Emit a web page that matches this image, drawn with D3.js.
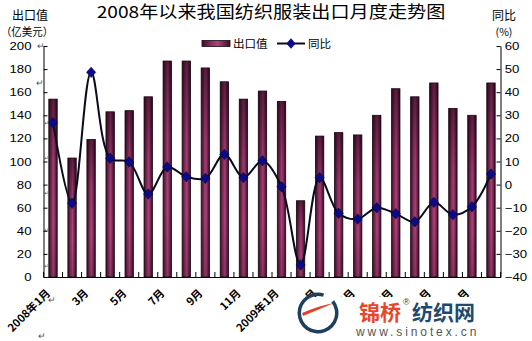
<!DOCTYPE html>
<html>
<head>
<meta charset="utf-8">
<script src="https://cdn.jsdelivr.net/npm/d3@7/dist/d3.min.js"></script>
<style>
  html, body { margin: 0; padding: 0; background: #fff; }
  svg { display: block; }
  text { font-family: "Liberation Sans", Arial, sans-serif; fill: #000; }
  .cjk { font-family: "Noto Sans CJK SC", "Noto Sans", sans-serif; }
</style>
</head>
<body>
<svg id="chart" width="532" height="341"></svg>
<script>
// Monthly textile & apparel exports, Jan 2008 – Dec 2009
const months = [
  "2008-01","2008-02","2008-03","2008-04","2008-05","2008-06",
  "2008-07","2008-08","2008-09","2008-10","2008-11","2008-12",
  "2009-01","2009-02","2009-03","2009-04","2009-05","2009-06",
  "2009-07","2009-08","2009-09","2009-10","2009-11","2009-12"
];
// export value, 100 million USD
const exportValue = [154, 103, 119, 143, 144, 156, 187, 187, 181, 169, 154, 161,
                     152, 66, 122, 125, 123, 140, 163, 156, 168, 146, 140, 168];
// year-on-year change, %
const yoy = [26.8, -8.1, 48.6, 11.4, 9.8, -4.1, 7.6, 3.4, 2.7, 13.1, 3.0, 10.3,
             -0.9, -34.8, 3.0, -12.4, -14.9, -10.0, -12.6, -16.1, -7.7, -13.0, -9.6, 4.6];
// x-axis labels, every second month
const monthLabels = {
  "2008-01": "2008年1月", "2008-03": "3月", "2008-05": "5月", "2008-07": "7月",
  "2008-09": "9月", "2008-11": "11月", "2009-01": "2009年1月", "2009-03": "3月",
  "2009-05": "5月", "2009-07": "7月", "2009-09": "9月", "2009-11": "11月"
};
const leftTicks = d3.range(0, 201, 20);
const rightTicks = d3.range(-40, 61, 10);

const svg = d3.select("#chart");
const plot = { left: 43.5, right: 500.5, top: 46, bottom: 277 };

const x = d3.scaleBand().domain(months)
  .range([plot.left, plot.right]).paddingInner(0.56).paddingOuter(0.28);
const yL = d3.scaleLinear().domain([0, 200]).range([plot.bottom, plot.top]);
const yR = d3.scaleLinear().domain([-40, 60]).range([plot.bottom, plot.top]);

// horizontally stretched text helper
function label(parent, px, py, str, o = {}) {
  return parent.append("text")
    .attr("class", o.cls || null)
    .attr("transform", `translate(${px},${py}) scale(${o.sx || 1},1)`)
    .attr("text-anchor", o.anchor || "start")
    .style("font-size", (o.size || 12) + "px")
    .style("font-weight", o.weight || "normal")
    .style("fill", o.fill || "#000")
    .style("letter-spacing", o.ls || null)
    .text(str);
}

// gradients for the bars
const defs = svg.append("defs");
const gh = defs.append("linearGradient").attr("id", "barH")
  .attr("x1", 0).attr("x2", 1).attr("y1", 0).attr("y2", 0);
[[0, "#3a0f26"], [0.3, "#842c5a"], [0.55, "#ae447e"], [0.8, "#72244c"], [1, "#330c21"]]
  .forEach(([o, c]) => gh.append("stop").attr("offset", o).attr("stop-color", c));
const gv = defs.append("linearGradient").attr("id", "barV")
  .attr("x1", 0).attr("x2", 0).attr("y1", 0).attr("y2", 1);
[[0, "#1a0010", 0.55], [0.35, "#1a0010", 0.12], [0.7, "#1a0010", 0], [1, "#1a0010", 0.2]]
  .forEach(([o, c, a]) => gv.append("stop").attr("offset", o).attr("stop-color", c).attr("stop-opacity", a));

// bars
const bars = svg.append("g");
bars.selectAll("rect.b").data(months).join("rect").attr("class", "b")
  .attr("x", d => x(d)).attr("width", x.bandwidth())
  .attr("y", (d, i) => yL(exportValue[i]))
  .attr("height", (d, i) => yL(0) - yL(exportValue[i]))
  .attr("fill", "url(#barH)");
bars.selectAll("rect.s").data(months).join("rect").attr("class", "s")
  .attr("x", d => x(d)).attr("width", x.bandwidth())
  .attr("y", (d, i) => yL(exportValue[i]))
  .attr("height", (d, i) => yL(0) - yL(exportValue[i]))
  .attr("fill", "url(#barV)").attr("stroke", "#1a0a12").attr("stroke-width", 0.8);

// axes
const axL = svg.append("g").attr("transform", `translate(${plot.left},0)`)
  .call(d3.axisLeft(yL).tickValues(leftTicks).tickSizeInner(-4).tickSizeOuter(0).tickPadding(10));
const axR = svg.append("g").attr("transform", `translate(${plot.right},0)`)
  .call(d3.axisRight(yR).tickValues(rightTicks).tickSizeInner(-4).tickSizeOuter(0).tickPadding(3.5));
const axB = svg.append("g").attr("transform", `translate(0,${plot.bottom})`)
  .call(d3.axisBottom(x).tickValues([]).tickSizeOuter(0));
// band boundary ticks pointing into the plot
axB.selectAll("line.bt").data(d3.range(months.length + 1)).join("line").attr("class", "bt")
  .attr("x1", i => plot.left + i * x.step()).attr("x2", i => plot.left + i * x.step())
  .attr("y1", 0).attr("y2", -5).attr("stroke", "#000");
[axL, axR, axB].forEach(a => {
  a.selectAll("path.domain").attr("stroke", "#000");
  a.selectAll("line").attr("stroke", "#000");
  a.selectAll("text").style("font-size", "11px").style("font-family", "'Liberation Sans', Arial, sans-serif")
    .attr("transform", "scale(1.2,1)");
});

// year-on-year line
const line = d3.line()
  .x((d, i) => x(months[i]) + x.bandwidth() / 2)
  .y(d => yR(d))
  .curve(d3.curveCatmullRom.alpha(0.5));
svg.append("path").datum(yoy).attr("d", line)
  .attr("fill", "none").attr("stroke", "#0b0b1e").attr("stroke-width", 2);
const diamond = "M0,-5.2L4.6,0L0,5.2L-4.6,0Z";
svg.append("g").selectAll("path").data(yoy).join("path")
  .attr("transform", (d, i) => `translate(${x(months[i]) + x.bandwidth() / 2},${yR(d)})`)
  .attr("d", diamond).attr("fill", "#0a0a8a").attr("stroke", "#06064a").attr("stroke-width", 0.6);

// x-axis labels, rotated
const xl = svg.append("g");
months.forEach(m => {
  if (!monthLabels[m]) return;
  const cx = x(m) + x.bandwidth() / 2 - 2;
  xl.append("text").attr("class", "cjk")
    .attr("transform", `translate(${cx},${plot.bottom + 17}) rotate(-45)`)
    .attr("text-anchor", "end")
    .style("font-size", "11px").style("font-weight", "bold")
    .text(monthLabels[m]);
});

// title
label(svg, 271, 18, "2008年以来我国纺织服装出口月度走势图", { cls: "cjk", size: 16.5, sx: 1.16, anchor: "middle" });

// axis titles
label(svg, 30, 20, "出口值", { cls: "cjk", size: 12, anchor: "middle" });
label(svg, 27, 36, "（亿美元）", { cls: "cjk", size: 11, sx: 0.95, anchor: "middle" });
label(svg, 504, 20, "同比", { cls: "cjk", size: 12, anchor: "middle" });
label(svg, 504, 36, "(%)", { cls: "cjk", size: 10.5, anchor: "middle" });

// legend
const lg = svg.append("g");
lg.append("rect").attr("x", 202).attr("y", 40.5).attr("width", 28).attr("height", 6)
  .attr("fill", "url(#barH)").attr("stroke", "#1a0a12").attr("stroke-width", 0.8);
label(lg, 233, 48, "出口值", { cls: "cjk", size: 11, sx: 1.05 });
lg.append("line").attr("x1", 277).attr("x2", 305).attr("y1", 43.5).attr("y2", 43.5)
  .attr("stroke", "#0b0b1e").attr("stroke-width", 2);
lg.append("path").attr("transform", "translate(291,43.5)").attr("d", diamond).attr("fill", "#0a0a8a");
label(lg, 308, 48, "同比", { cls: "cjk", size: 11, sx: 1.05 });

// stray paragraph marks
const marks = [[37, 49, 9], [36, 86, 9], [44, 125, 6], [44, 160, 6], [44, 195, 6], [44, 232, 6], [44, 268, 6], [48, 303, 9], [38, 339, 9]];
marks.forEach(([mx, my, s]) => label(svg, mx, my, "↵", { size: s, fill: "#555" }));

// site watermark
const wm = svg.append("g");
wm.append("rect").attr("x", 287).attr("y", 297).attr("width", 245).attr("height", 44).attr("fill", "#fff");
wm.append("path").attr("d", d3.arc()({ innerRadius: 17, outerRadius: 20.5, startAngle: 0.9, endAngle: 2 * Math.PI + 0.3 }))
  .attr("transform", "translate(318,313)").attr("fill", "#1f3f5f");
wm.append("path").attr("d", "M302,313 Q318,306 334,303 Q320,309 303,316 Z").attr("fill", "#e2432a");
label(wm, 359, 320, "锦桥", { cls: "cjk", size: 21, weight: "bold", fill: "#e8462b" });
label(wm, 403, 305, "®", { size: 9, fill: "#444" });
label(wm, 412, 320, "纺织网", { cls: "cjk", size: 21, weight: "bold", fill: "#1f4a6e" });
label(wm, 356, 336, "www.sinotex.cn", { size: 12, fill: "#555", ls: "2.9px" });
</script>
</body>
</html>
